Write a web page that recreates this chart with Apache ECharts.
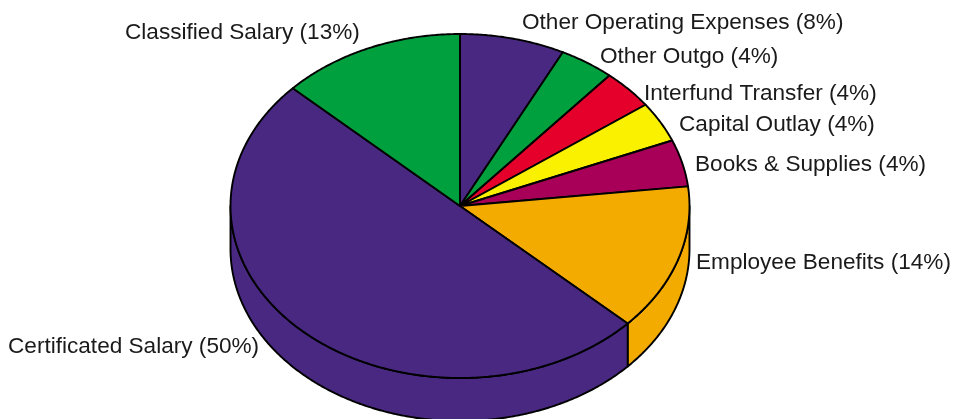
<!DOCTYPE html>
<html><head><meta charset="utf-8">
<style>html,body{margin:0;padding:0;background:#fff}#c{width:960px;height:419px}</style>
<script src="https://cdn.jsdelivr.net/npm/echarts@6/dist/echarts.min.js"></script>
</head><body><div id="c"></div>
<script>
const categories = ["Other Operating Expenses","Other Outgo","Interfund Transfer","Capital Outlay","Books & Supplies","Employee Benefits","Certificated Salary","Classified Salary"];
const values = [7.4,3.9,3.7,3.8,4.4,13.8,50.1,13.0];
const percentLabels = ["8%","4%","4%","4%","4%","14%","50%","13%"];
const colors = ["#482880","#00A03E","#E4002B","#F9F100","#A80058","#F4AB00","#482880","#00A03E"];
const labelAnchors = [[522,23],[600,57],[644,94],[679,125],[695,165],[696,263],[8,347],[125,33]];
const cx=460, cy=206, rx=229.5, ry=172, depth=43;
const total = values.reduce((a,b)=>a+b,0);
const starts=[]; values.reduce((acc,v,i)=>{starts[i]=acc;return acc+v;},0);
const ang = v => echarts.number.linearMap(v,[0,total],[0,Math.PI*2],false);
const pt = (t,dy)=>[cx+rx*Math.sin(t), cy-ry*Math.cos(t)+(dy||0)];
function arc(a,b,dy){const n=Math.max(2,Math.ceil((b-a)/0.008));const p=[];for(let i=0;i<=n;i++)p.push(pt(a+(b-a)*i/n,dy));return p;}
const stroke={stroke:"#000",lineWidth:1.9,lineJoin:"round"};
function renderItem(params,api){
  const i=params.dataIndex, v=api.value(0);
  const a=ang(starts[i]), b=ang(starts[i]+v);
  const kids=[];
  const s=Math.max(a,Math.PI/2), e=Math.min(b,Math.PI*1.5);
  if(e>s){
    kids.push({type:"polygon",shape:{points:arc(s,e,0).concat(arc(s,e,depth).reverse())},style:Object.assign({fill:colors[i]},stroke)});
  }
  kids.push({type:"polygon",shape:{points:[[cx,cy]].concat(arc(a,b,0))},style:Object.assign({fill:colors[i]},stroke)});
  kids.push({type:"text",x:labelAnchors[i][0],y:labelAnchors[i][1],style:{text:categories[i]+" ("+percentLabels[i]+")",fill:"#1a1a1a",font:'22.6px "Liberation Sans", Arial, sans-serif',align:"left",verticalAlign:"middle"}});
  return {type:"group",children:kids};
}
const chart=echarts.init(document.getElementById("c"),null,{renderer:"canvas"});
chart.setOption({animation:false,series:[{type:"custom",coordinateSystem:"none",silent:true,clip:false,renderItem,data:values.map(v=>[v])}]});
</script></body></html>
